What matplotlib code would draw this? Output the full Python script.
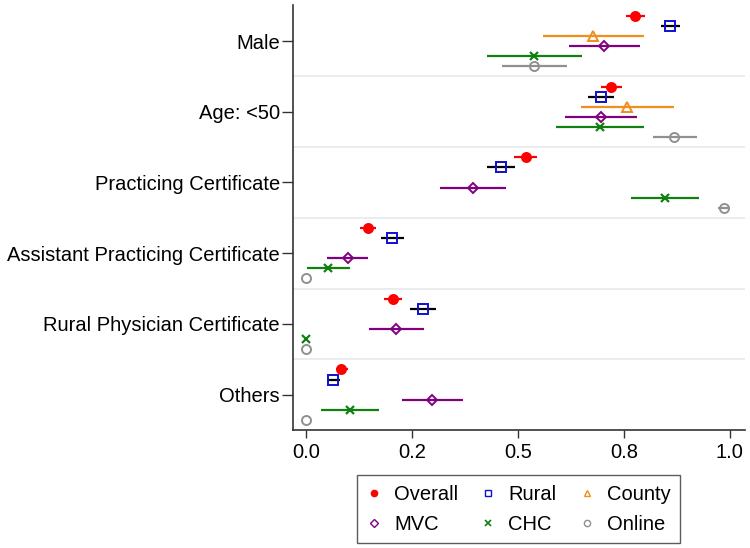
import numpy as np
import matplotlib.pyplot as plt
from matplotlib.lines import Line2D

plt.rcParams['font.family'] = ['Liberation Sans', 'DejaVu Sans']

categories = ['Male', 'Age: <50', 'Practicing Certificate',
              'Assistant Practicing Certificate', 'Rural Physician Certificate', 'Others']

nan = np.nan
# point estimates and 95% CI per series
overall = [0.776, 0.720, 0.518, 0.146, 0.205, 0.083]
overall_lo = [0.755, 0.697, 0.490, 0.127, 0.184, 0.071]
overall_hi = [0.799, 0.745, 0.544, 0.165, 0.227, 0.098]

rural = [0.858, 0.695, 0.459, 0.203, 0.276, 0.064]
rural_lo = [0.838, 0.665, 0.427, 0.176, 0.246, 0.049]
rural_hi = [0.882, 0.726, 0.492, 0.230, 0.306, 0.080]

county = [0.677, 0.758, nan, nan, nan, nan]
county_lo = [0.559, 0.650, nan, nan, nan, nan]
county_hi = [0.797, 0.869, nan, nan, nan, nan]

mvc = [0.704, 0.695, 0.393, 0.098, 0.213, 0.297]
mvc_lo = [0.621, 0.612, 0.317, 0.050, 0.149, 0.226]
mvc_hi = [0.788, 0.781, 0.472, 0.145, 0.279, 0.371]

chc = [0.539, 0.693, 0.847, 0.052, 0.0, 0.103]
chc_lo = [0.427, 0.589, 0.766, 0.002, 0.0, 0.035]
chc_hi = [0.652, 0.797, 0.928, 0.103, 0.0, 0.172]

online = [0.539, 0.869, 0.987, 0.0, 0.0, 0.0]
online_lo = [0.462, 0.818, 0.973, 0.0, 0.0, 0.0]
online_hi = [0.616, 0.922, 1.0, 0.0, 0.0, 0.0]

series = [
    ('Overall', overall, overall_lo, overall_hi, 'o', 'red', 'red', 'red'),
    ('Rural', rural, rural_lo, rural_hi, 's', 'none', '#1010d0', 'black'),
    ('County', county, county_lo, county_hi, '^', 'none', '#f28e1c', '#f28e1c'),
    ('MVC', mvc, mvc_lo, mvc_hi, 'D', 'none', '#800080', '#800080'),
    ('CHC', chc, chc_lo, chc_hi, 'x', 'none', '#108010', '#108010'),
    ('Online', online, online_lo, online_hi, 'o', 'none', '#909090', '#909090'),
]

fig = plt.figure(figsize=(7.5, 5.48), dpi=100)
ax = fig.add_axes([0.3907, 0.2153, 0.6026, 0.7756])

y0 = np.arange(len(categories))
for i, (name, v, lo, hi, mk, fc, ec, lc) in enumerate(series):
    y = y0 + (i - 2.5) / 7
    v = np.array(v); lo = np.array(lo); hi = np.array(hi)
    ax.hlines(y, lo, hi, color=lc, lw=1.6, zorder=2)
    ms = 6.5 if mk != 'D' else 5.5
    if mk == 'x':
        ax.plot(v, y, ls='none', marker='x', ms=5.5, mew=1.6, color=ec, zorder=3)
    else:
        ax.plot(v, y, ls='none', marker=mk, ms=ms, mfc=fc, mec=ec, mew=1.4, zorder=3)

for s in np.arange(0.5, len(categories) - 1, 1.0):
    ax.axhline(s, color='#e6eaee', lw=1.2, zorder=1)

ax.set_ylim(5.5, -0.51)
ax.set_xlim(-0.031, 1.036)
ax.set_yticks(y0)
ax.set_yticklabels(categories, fontsize=14.5)
ax.set_xticks([0, 0.25, 0.5, 0.75, 1.0])
ax.set_xticklabels(['0.0', '0.2', '0.5', '0.8', '1.0'], fontsize=14.5)
ax.tick_params(axis='both', direction='out', width=1, color='#333333')
ax.tick_params(axis='x', length=6, pad=3)
ax.tick_params(axis='y', length=8, pad=1.5)
for side in ['top', 'right']:
    ax.spines[side].set_visible(False)
for side in ['left', 'bottom']:
    ax.spines[side].set_color('#333333')
    ax.spines[side].set_linewidth(1.2)

handles = []
for name, v, lo, hi, mk, fc, ec, lc in series:
    if mk == 'x':
        h = Line2D([], [], ls='none', marker='x', ms=4, mew=1.2, color=ec, label=name)
    else:
        h = Line2D([], [], ls='none', marker=mk, ms=4.5, mfc=fc, mec=ec, mew=1.0, label=name)
    handles.append(h)
order = [0, 3, 1, 4, 2, 5]
leg = fig.legend([handles[k] for k in order], [series[k][0] for k in order],
                 ncol=3, loc='center', bbox_to_anchor=(0.691, 0.071),
                 fontsize=14.5, frameon=True, fancybox=False, edgecolor='#333333',
                 handlelength=0.8, handletextpad=0.6, columnspacing=1.1,
                 labelspacing=0.55, borderpad=0.45)
leg.get_frame().set_linewidth(1.0)

fig.savefig('out.png', dpi=100)
